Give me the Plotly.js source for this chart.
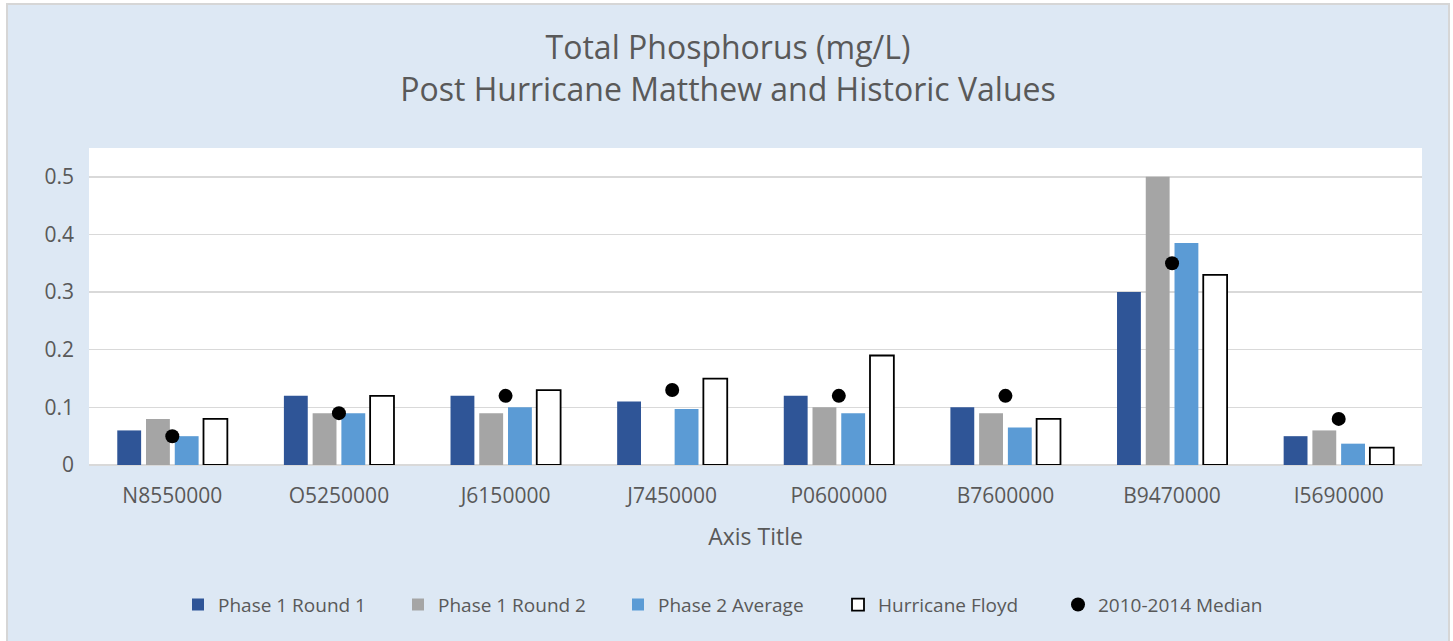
<!DOCTYPE html>
<html>
<head>
<meta charset="utf-8">
<script src="https://cdn.plot.ly/plotly-3.0.1.min.js"></script>
<style>
  html, body { margin: 0; padding: 0; background: #ffffff; width: 1453px; height: 641px; overflow: hidden; }
  #frame { position: absolute; left: 6px; top: 3px; width: 1440px; height: 640px; border: 2px solid #d6d6d6; border-bottom: none; background: #dde8f4; }
  #chart { position: absolute; left: 0; top: 0; width: 1440px; height: 638px; }
</style>
</head>
<body>
<div id="frame"><div id="chart"></div></div>
<script>
const categories = ["N8550000", "O5250000", "J6150000", "J7450000", "P0600000", "B7600000", "B9470000", "I5690000"];
const phase1Round1 = [0.06, 0.12, 0.12, 0.11, 0.12, 0.10, 0.30, 0.05];
const phase1Round2 = [0.08, 0.09, 0.09, null, 0.10, 0.09, 0.50, 0.06];
const phase2Average = [0.05, 0.09, 0.10, 0.097, 0.09, 0.065, 0.385, 0.037];
const hurricaneFloyd = [0.08, 0.12, 0.13, 0.15, 0.19, 0.08, 0.33, 0.03];
const median2010_2014 = [0.05, 0.09, 0.12, 0.13, 0.12, 0.12, 0.35, 0.08];
const yTickValues = [0, 0.1, 0.2, 0.3, 0.4, 0.5];
const yTickLabels = ["0", "0.1", "0.2", "0.3", "0.4", "0.5"];

const FONT = "Open Sans, Lato, sans-serif";
const TXT = "#595959";

const traces = [
  { type: "bar", name: "Phase 1 Round 1", x: categories, y: phase1Round1, marker: { color: "#2f5597" } },
  { type: "bar", name: "Phase 1 Round 2", x: categories, y: phase1Round2, marker: { color: "#a5a5a5" } },
  { type: "bar", name: "Phase 2 Average", x: categories, y: phase2Average, marker: { color: "#5b9bd5" } },
  { type: "bar", name: "Hurricane Floyd", x: categories, y: hurricaneFloyd, marker: { color: "#ffffff", line: { color: "#000000", width: 1.8 } } },
  { type: "scatter", mode: "markers", name: "2010-2014 Median", x: categories, y: median2010_2014, marker: { color: "#000000", size: 14, symbol: "circle" } }
];

const layout = {
  width: 1440, height: 638,
  paper_bgcolor: "#dde8f4",
  plot_bgcolor: "#ffffff",
  font: { family: FONT, color: TXT },
  margin: { l: 81, r: 26, t: 143, b: 178 },
  title: {
    text: "Total Phosphorus (mg/L)<br>Post Hurricane Matthew and Historic Values",
    font: { family: FONT, size: 32, color: TXT },
    x: 0.5, xanchor: "center", xref: "container",
    y: 0.915, yanchor: "top", yref: "container"
  },
  barmode: "group",
  bargap: 0.31,
  bargroupgap: 0.17,
  xaxis: {
    type: "category",
    showgrid: false, showline: false, zeroline: false,
    ticks: "",
    tickfont: { family: FONT, size: 21, color: TXT },
    ticklabelstandoff: 16,
    title: { text: "Axis Title", font: { family: FONT, size: 23, color: TXT }, standoff: 20 }
  },
  yaxis: {
    range: [0, 0.55],
    tickvals: yTickValues, ticktext: yTickLabels,
    showgrid: true, gridcolor: "#d9d9d9", gridwidth: 1.5,
    zeroline: true, zerolinecolor: "#d9d9d9", zerolinewidth: 1.5,
    showline: false, ticks: "",
    tickfont: { family: FONT, size: 21, color: TXT },
    ticklabelstandoff: 14
  },
  showlegend: true,
  legend: {
    orientation: "h",
    xref: "container", yref: "container",
    x: 0.5, xanchor: "center",
    y: 0.06, yanchor: "middle",
    font: { family: FONT, size: 19, color: TXT },
    bgcolor: "rgba(0,0,0,0)",
    traceorder: "normal",
    itemwidth: 30,
    entrywidth: 175, entrywidthmode: "pixels"
  }
};

Plotly.newPlot("chart", traces, layout, { displayModeBar: false, staticPlot: true });
</script>
</body>
</html>
